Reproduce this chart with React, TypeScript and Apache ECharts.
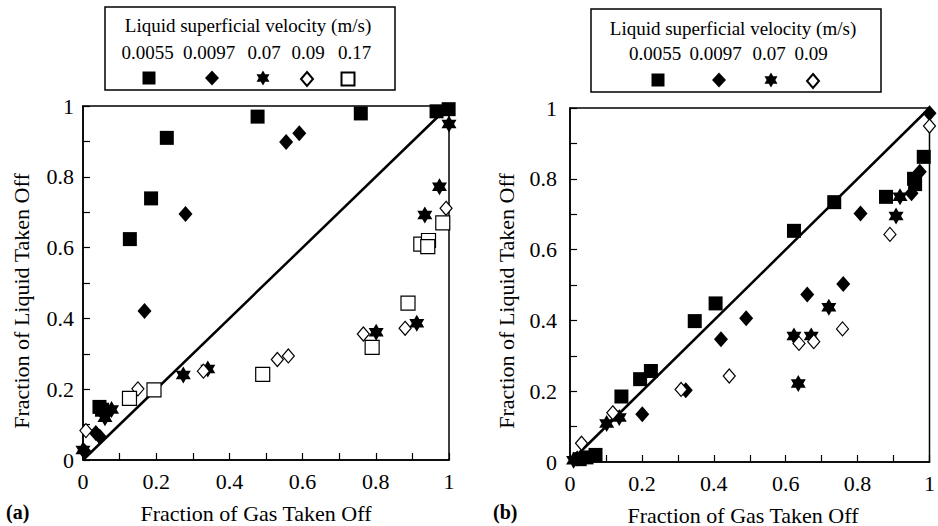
import React, { useEffect, useRef } from "react";
import * as echarts from "echarts";

const SERIES_NAMES = ["0.0055", "0.0097", "0.07", "0.09", "0.17"];

// Panel (a): [fraction of gas, fraction of liquid]
const a0055 = [[0.128, 0.624], [0.186, 0.739], [0.229, 0.91], [0.477, 0.97], [0.759, 0.979], [0.966, 0.985], [0.999, 0.991], [0.045, 0.15], [0.052, 0.142]];
const a0097 = [[0.555, 0.898], [0.591, 0.923], [0.28, 0.695], [0.168, 0.421], [0.035, 0.076], [0.046, 0.066], [0.004, 0.025]];
const a007 = [[1.0, 0.949], [0.974, 0.772], [0.934, 0.692], [0.912, 0.386], [0.801, 0.361], [0.341, 0.257], [0.274, 0.24], [0.078, 0.143], [0.06, 0.119], [0.0, 0.028]];
const a009 = [[0.992, 0.711], [0.88, 0.372], [0.766, 0.356], [0.561, 0.294], [0.531, 0.284], [0.329, 0.251], [0.15, 0.201], [0.008, 0.083]];
const a017 = [[0.983, 0.67], [0.923, 0.61], [0.944, 0.62], [0.942, 0.603], [0.888, 0.443], [0.79, 0.318], [0.491, 0.242], [0.194, 0.198], [0.127, 0.174]];

// Panel (b)
const b0055 = [[0.735, 0.734], [0.623, 0.653], [0.405, 0.448], [0.879, 0.749], [0.957, 0.8], [0.96, 0.785], [0.984, 0.862], [0.347, 0.398], [0.225, 0.257], [0.195, 0.234], [0.143, 0.185], [0.071, 0.02], [0.046, 0.013], [0.027, 0.008]];
const b0097 = [[1.0, 0.985], [0.973, 0.82], [0.95, 0.759], [0.808, 0.702], [0.76, 0.503], [0.66, 0.473], [0.49, 0.406], [0.42, 0.347], [0.322, 0.203], [0.201, 0.135], [0.02, 0.01]];
const b007 = [[0.918, 0.749], [0.907, 0.695], [0.72, 0.437], [0.623, 0.356], [0.671, 0.356], [0.635, 0.222], [0.137, 0.126], [0.102, 0.109], [0.01, 0.005]];
const b009 = [[1.0, 0.949], [0.89, 0.643], [0.758, 0.376], [0.678, 0.34], [0.637, 0.335], [0.443, 0.243], [0.309, 0.205], [0.119, 0.139], [0.032, 0.053]];

const diagonal = [[0, 0], [1, 1]];

const FONT = "Liberation Serif, Times New Roman, DejaVu Serif, serif";
const STAR = "path://M50 0 L64.4 25 L93.3 25 L78.9 50 L93.3 75 L64.4 75 L50 100 L35.6 75 L6.7 75 L21.1 50 L6.7 25 L35.6 25 Z";

const styles: Record<string, any> = {
  "0.0055": { symbol: "rect", symbolSize: 14, itemStyle: { color: "#000", opacity: 1 } },
  "0.0097": { symbol: "diamond", symbolSize: [14, 16], itemStyle: { color: "#000", opacity: 1 } },
  "0.07": { symbol: STAR, symbolSize: [15, 17], itemStyle: { color: "#000", opacity: 1 } },
  "0.09": { symbol: "diamond", symbolSize: [12, 14], itemStyle: { color: "#fff", borderColor: "#000", borderWidth: 1.2, opacity: 1 } },
  "0.17": { symbol: "rect", symbolSize: 14, itemStyle: { color: "#fff", borderColor: "#000", borderWidth: 1.2, opacity: 1 } },
};

function scatter(name: string, data: number[][], idx: number) {
  const s = styles[name];
  return {
    type: "scatter",
    name,
    xAxisIndex: idx,
    yAxisIndex: idx,
    data,
    symbol: s.symbol,
    symbolSize: s.symbolSize,
    itemStyle: s.itemStyle,
    clip: false,
    z: 3,
  };
}

function axisCommon(gridIndex: number, labelMargin: number) {
  return {
    type: "value",
    gridIndex,
    min: 0,
    max: 1,
    interval: 0.2,
    axisLine: { show: true, lineStyle: { color: "#000", width: 1.5 } },
    axisTick: { show: true, inside: true, length: 7, lineStyle: { color: "#000", width: 1.2 } },
    minorTick: { show: true, splitNumber: 2, length: 7, lineStyle: { color: "#000", width: 1.2 } },
    splitLine: { show: false },
    axisLabel: { color: "#000", fontFamily: FONT, fontSize: 22, margin: labelMargin },
  };
}

function legendIcon(name: string, cx: number, cy: number, w: number, h: number) {
  return {
    data: [name],
    left: cx - w / 2,
    top: cy - h / 2,
    itemWidth: w,
    itemHeight: h,
    padding: 0,
    itemGap: 0,
    selectedMode: false,
    formatter: () => "",
    textStyle: { fontSize: 1 },
  };
}

function txt(text: string, x: number, y: number, size: number, extra: any = {}) {
  return {
    type: "text",
    x,
    y,
    rotation: extra.rotation || 0,
    style: {
      text,
      fill: "#000",
      fontFamily: FONT,
      fontSize: size,
      fontWeight: extra.bold ? "bold" : "normal",
      align: extra.align || "center",
      verticalAlign: "middle",
    },
  };
}

export default function App() {
  const ref = useRef<HTMLDivElement>(null);
  useEffect(() => {
    if (!ref.current) return;
    const chart = echarts.init(ref.current, undefined, { renderer: "svg" });
    const legendA = [149, 212, 263, 306, 347];
    const legendB = [658, 719, 771, 812];
    const iconSize: Record<string, number[]> = {
      "0.0055": [13, 13],
      "0.0097": [14, 15],
      "0.07": [14, 15],
      "0.09": [12, 14],
      "0.17": [13, 13],
    };
    const valA = [147.5, 209, 264, 308, 354.7];
    const valB = [655, 715.5, 769, 811];
    const legends: any[] = [];
    SERIES_NAMES.forEach((n, i) => legends.push(legendIcon(n, legendA[i], 78, iconSize[n][0], iconSize[n][1])));
    SERIES_NAMES.slice(0, 4).forEach((n, i) => legends.push(legendIcon(n, legendB[i], 80, iconSize[n][0], iconSize[n][1])));

    const graphics: any[] = [
      { type: "rect", shape: { x: 105, y: 7, width: 290, height: 83 }, style: { fill: "none", stroke: "#000", lineWidth: 1.5 } },
      { type: "rect", shape: { x: 591, y: 9, width: 290, height: 83 }, style: { fill: "none", stroke: "#000", lineWidth: 1.5 } },
      txt("Liquid superficial velocity (m/s)", 248, 25, 19),
      txt("Liquid superficial velocity (m/s)", 733, 28, 19),
      txt("Fraction of Gas Taken Off", 256, 513, 22),
      txt("Fraction of Gas Taken Off", 743, 515, 22),
      txt("Fraction of Liquid Taken Off", 21, 301, 22, { rotation: Math.PI / 2 }),
      txt("Fraction of Liquid Taken Off", 506, 301, 22, { rotation: Math.PI / 2 }),
      txt("(a)", 6, 512, 20, { bold: true, align: "left" }),
      txt("(b)", 493, 512, 20, { bold: true, align: "left" }),
    ];
    SERIES_NAMES.forEach((n, i) => graphics.push(txt(n, valA[i], 52, 19)));
    SERIES_NAMES.slice(0, 4).forEach((n, i) => graphics.push(txt(n, valB[i], 53, 19)));

    const lineSeries = (idx: number) => ({
      type: "line",
      name: "diag" + idx,
      xAxisIndex: idx,
      yAxisIndex: idx,
      data: diagonal,
      symbol: "none",
      lineStyle: { color: "#000", width: 2.5 },
      z: 2,
      silent: true,
    });

    chart.setOption({
      animation: false,
      backgroundColor: "#fff",
      textStyle: { fontFamily: FONT },
      grid: [
        { left: 83, top: 106, width: 366, height: 354, show: true, borderColor: "#000", borderWidth: 1.5, backgroundColor: "transparent" },
        { left: 570, top: 108, width: 365, height: 354, show: true, borderColor: "#000", borderWidth: 1.5, backgroundColor: "transparent" },
      ],
      xAxis: [
        { ...axisCommon(0, 10) },
        { ...axisCommon(1, 10) },
      ],
      yAxis: [
        { ...axisCommon(0, 9) },
        { ...axisCommon(1, 13) },
      ],
      legend: legends,
      graphic: graphics,
      series: [
        lineSeries(0),
        lineSeries(1),
        scatter("0.0055", a0055, 0),
        scatter("0.0097", a0097, 0),
        scatter("0.07", a007, 0),
        scatter("0.09", a009, 0),
        scatter("0.17", a017, 0),
        scatter("0.0055", b0055, 1),
        scatter("0.0097", b0097, 1),
        scatter("0.07", b007, 1),
        scatter("0.09", b009, 1),
      ],
    });
    return () => chart.dispose();
  }, []);
  return <div ref={ref} style={{ position: "fixed", left: 0, top: 0, width: 938, height: 526 }} />;
}
